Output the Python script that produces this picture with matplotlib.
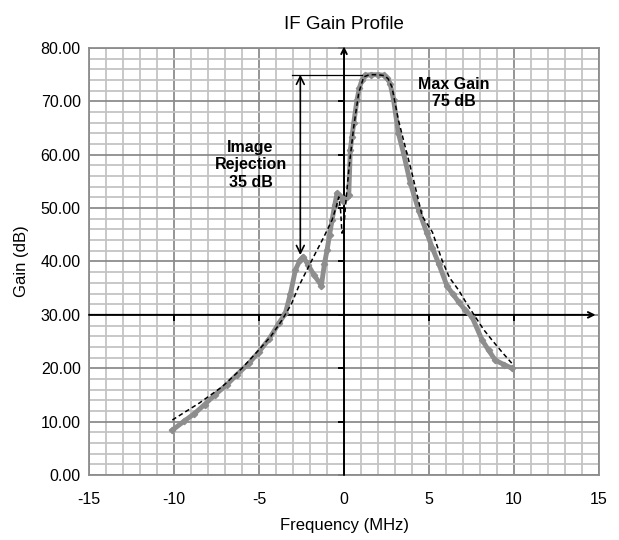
import matplotlib
matplotlib.use("Agg")
import matplotlib.pyplot as plt
import numpy as np

plt.rcParams["font.family"] = ["Liberation Sans", "DejaVu Sans"]
plt.rcParams["axes.unicode_minus"] = False

# measured gain (grey trace)
freq_meas = [-10.1, -9.4, -8.8, -8.2, -7.6, -6.9, -6.3, -5.6, -5.0, -4.4, -3.84,
             -3.45, -3.15, -2.86, -2.6, -2.4, -2.1, -1.75, -1.33, -1.15, -1.0,
             -0.85, -0.7, -0.55, -0.41, -0.25, -0.05, 0.15, 0.28, 0.37, 0.47,
             0.57, 0.76, 0.9, 1.06, 1.25, 1.6, 2.0, 2.35, 2.55, 2.72, 2.92,
             3.2, 3.5, 3.9, 4.4, 4.88, 5.2, 5.57, 6.06, 6.4, 6.75, 7.1, 7.53,
             8.12, 8.5, 8.9, 9.4, 9.88]
gain_meas = [8.4, 10.1, 11.5, 13.2, 15.0, 16.9, 18.8, 20.9, 23.1, 25.5, 28.4,
             30.3, 34.0, 38.4, 40.2, 40.9, 39.3, 37.4, 35.5, 39.6, 42.1,
             45.0, 47.8, 50.5, 52.8, 52.3, 51.3, 52.0, 52.4, 60.9, 63.4,
             65.9, 70.2, 72.5, 74.0, 74.9, 75.0, 75.0, 74.9, 74.3, 73.3, 70.2,
             64.0, 60.3, 54.7, 49.5, 45.3, 42.5, 39.6, 35.4, 33.9, 32.4, 31.0, 29.6,
             25.3, 23.4, 21.5, 20.7, 20.0]

# fitted model (dashed)
freq_fit = [-10.1, -8.5, -7.18, -6.0, -5.02, -4.3, -3.65, -3.1, -2.67, -2.2,
            -1.69, -1.2, -0.7, -0.45, -0.31, -0.2, -0.12, 0.0, 0.08, 0.28, 0.57,
            0.86, 1.16, 1.5, 2.0, 2.4, 2.6, 2.82, 3.2, 3.6, 4.0, 4.6, 5.2,
            5.76, 6.2, 6.75, 7.2, 7.73, 8.2, 8.7, 9.3, 9.88]
gain_fit = [10.3, 13.5, 16.5, 20.0, 23.4, 26.0, 29.0, 32.0, 35.3, 38.3,
            41.5, 44.5, 47.8, 50.3, 52.1, 49.5, 45.3, 46.5, 50.2, 57.1, 65.2,
            71.5, 74.6, 75.0, 75.0, 74.8, 74.2, 72.7, 66.5, 61.5, 56.5, 48.5, 45.5,
            40.3, 37.0, 34.6, 32.2, 29.6, 27.3, 25.3, 23.0, 20.9]

x_ticks = [-15, -10, -5, 0, 5, 10, 15]
y_ticks = [0, 10, 20, 30, 40, 50, 60, 70, 80]

fig = plt.figure(figsize=(6.19, 5.40), dpi=100)
ax = fig.add_axes([0.1438, 0.1204, 0.8239, 0.7907])

ax.set_xlim(-15, 15)
ax.set_ylim(0, 80)
ax.set_xticks(x_ticks)
ax.set_yticks(y_ticks)
ax.set_yticklabels([f"{v:.2f}" for v in y_ticks])
ax.set_xticks(np.arange(-15, 16, 1), minor=True)
ax.set_yticks(np.arange(0, 81, 2), minor=True)
ax.tick_params(which="both", length=0, labelsize=11.5, pad=6)
ax.tick_params(axis="x", pad=12)
ax.grid(True, which="minor", color="#c4c4c4", linewidth=1.3)
ax.grid(True, which="major", color="#8c8c8c", linewidth=1.3)
ax.set_axisbelow(True)
for sp in ax.spines.values():
    sp.set_color("#8c8c8c")
    sp.set_linewidth(1.3)

# black cross axes with arrows
ax.annotate("", xy=(14.8, 30), xytext=(-15, 30),
            arrowprops=dict(arrowstyle="->", lw=1.4, color="black",
                            shrinkA=0, shrinkB=0), annotation_clip=False)
ax.annotate("", xy=(0, 80.3), xytext=(0, 0),
            arrowprops=dict(arrowstyle="->", lw=1.4, color="black",
                            shrinkA=0, shrinkB=0), annotation_clip=False)
for yt in y_ticks:
    ax.plot([-0.3, 0], [yt, yt], color="black", lw=1.4, clip_on=False)
for xt in x_ticks[1:-1]:
    ax.plot([xt, xt], [30, 29.0], color="black", lw=1.4)

ax.plot(freq_meas, gain_meas, color="#8e8e8e", lw=3.5, marker="D",
        markersize=3.2, zorder=3)
ax.plot(freq_fit, gain_fit, color="black", lw=1.1, ls=(0, (3, 2)), zorder=4)

# annotations
ax.plot([-3.06, 1.06], [75, 75], color="black", lw=0.9, zorder=5)
ax.annotate("", xy=(-2.57, 41.2), xytext=(-2.57, 75),
            arrowprops=dict(arrowstyle="<->", lw=1.2, color="black",
                            shrinkA=0, shrinkB=0, mutation_scale=14), zorder=5)
ax.text(-5.5, 58.1, "Image\nRejection\n35 dB", ha="center", va="center",
        fontsize=11.5, fontweight="bold", linespacing=1.2)
ax.text(6.45, 71.6, "Max Gain\n75 dB", ha="center", va="center",
        fontsize=11.5, fontweight="bold", linespacing=1.2)

ax.set_title("IF Gain Profile", fontsize=13.5, pad=14)
ax.set_xlabel("Frequency (MHz)", fontsize=12, labelpad=8)
ax.set_ylabel("Gain (dB)", fontsize=12, labelpad=8)

fig.savefig("out.png", dpi=100)
